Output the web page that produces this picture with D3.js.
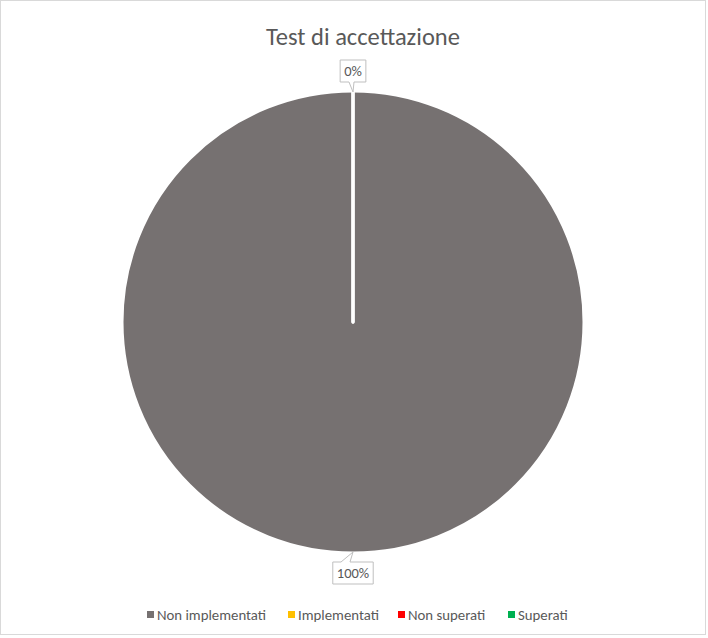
<!DOCTYPE html>
<html>
<head>
<meta charset="utf-8">
<script src="https://cdn.jsdelivr.net/npm/d3@7"></script>
<style>
  body { margin: 0; background: #fff; }
  svg { display: block; }
  text { font-family: Calibri, Carlito, "Liberation Sans", sans-serif; fill: #595959; }
</style>
</head>
<body>
<svg width="708" height="638"></svg>
<script>
// chart data
const title = "Test di accettazione";
const categories = ["Non implementati", "Implementati", "Non superati", "Superati"];
const values = [100, 0, 0, 0];
const colors = ["#767171", "#FFC000", "#FF0000", "#00B050"];

const width = 708;
const height = 638;
const cx = 353, cy = 322, radius = 231;

const svg = d3.select("svg");

// chart border
svg.append("rect")
  .attr("x", 0.5).attr("y", 0.5)
  .attr("width", 705).attr("height", 634)
  .attr("fill", "#fff")
  .attr("stroke", "#d9d9d9");

svg.append("text")
  .attr("x", 363).attr("y", 45)
  .attr("text-anchor", "middle")
  .style("font-size", "24.5px")
  .text(title);

const color = d3.scaleOrdinal(categories, colors);
const total = d3.sum(values);

const pie = d3.pie().sort(null).value(d => d.value);
const slices = pie(categories.map((c, i) => ({ name: c, value: values[i] })));

const arc = d3.arc().innerRadius(0).outerRadius(radius);
const labelArc = d3.arc().innerRadius(radius + 20).outerRadius(radius + 20);
const edgeArc = d3.arc().innerRadius(radius - 1).outerRadius(radius - 1);

const g = svg.append("g").attr("transform", `translate(${cx},${cy})`);

g.selectAll("path")
  .data(slices)
  .join("path")
    .attr("d", arc)
    .attr("fill", d => color(d.data.name))
    .attr("stroke", "#fff")
    .attr("stroke-width", 3)
    .attr("stroke-linejoin", "round");

// data labels with callouts (one per distinct position)
const seen = new Set();
const labels = slices.filter(d => {
  const key = d3.format(".3f")((d.startAngle + d.endAngle) / 2) + "|" + Math.round(d.value / total * 100);
  if (seen.has(key)) return false;
  seen.add(key);
  return true;
});

const lab = g.selectAll("g.label")
  .data(labels)
  .join("g")
    .attr("class", "label");

lab.each(function(d) {
  const el = d3.select(this);
  const [lx, ly] = labelArc.centroid(d);
  const [tx, ty] = edgeArc.centroid(d);
  const t = el.append("text")
    .attr("x", lx).attr("y", ly)
    .attr("text-anchor", "middle")
    .attr("dy", "0.35em")
    .style("font-size", "14.5px")
    .text(d3.format(".0%")(d.value / total));
  const w = t.node().getComputedTextLength() + 8;
  const h = 22;
  const x0 = lx - w / 2, x1 = lx + w / 2, y0 = ly - h / 2, y1 = ly + h / 2;
  let p;
  if (ty > ly) {
    // pointer down
    p = `M${x0},${y0}H${x1}V${y1}H${tx + 1}L${tx},${ty}L${tx - 4},${y1}H${x0}Z`;
  } else {
    // pointer up
    p = `M${x0},${y0}H${tx - 12}L${tx},${ty}L${tx - 3},${y0}H${x1}V${y1}H${x0}Z`;
  }
  el.insert("path", "text")
    .attr("d", p)
    .attr("fill", "#fff")
    .attr("stroke", "#bfbfbf");
});

// legend
const legendX = [147, 288, 398, 508];
const legend = svg.append("g")
  .selectAll("g")
  .data(categories)
  .join("g")
    .attr("transform", (d, i) => `translate(${legendX[i]},615)`);

legend.append("rect")
  .attr("x", 0).attr("y", -4)
  .attr("width", 7).attr("height", 7)
  .attr("fill", d => color(d));

legend.append("text")
  .attr("x", 10).attr("y", 0)
  .attr("dy", "0.35em")
  .style("font-size", "14.8px")
  .text(d => d);
</script>
</body>
</html>
